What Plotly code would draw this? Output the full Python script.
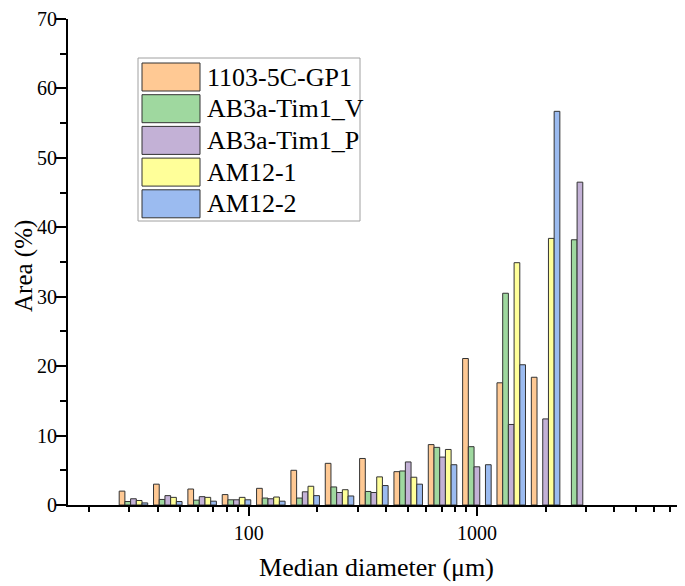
import numpy as np
import plotly.graph_objects as go

# ---- data ----
diameters = [31.25, 44.19, 62.5, 88.39, 125, 176.78, 250, 353.55, 500, 707.11,
             1000, 1414.21, 2000, 2828.43]
series_names = ["1103-5C-GP1", "AB3a-Tim1_V", "AB3a-Tim1_P", "AM12-1", "AM12-2"]
gp1 = [2.0, 3.0, 2.3, 1.5, 2.4, 5.0, 6.0, 6.7, 4.8, 8.7, 21.1, 17.6, 18.4, None]
tim1_v = [0.5, 0.8, 0.7, 0.75, 1.0, 1.0, 2.6, 1.95, 4.9, 8.3, 8.4, 30.5, None, 38.2]
tim1_p = [0.9, 1.35, 1.2, 0.75, 0.9, 1.9, 1.8, 1.8, 6.2, 6.9, 5.5, 11.6, 12.4, 46.5]
am12_1 = [0.65, 1.1, 1.1, 1.1, 1.15, 2.7, 2.2, 4.05, 4.0, 8.0, None, 34.9, 38.4, None]
am12_2 = [0.3, 0.5, 0.55, 0.75, 0.55, 1.35, 1.3, 2.8, 3.0, 5.8, 5.8, 20.2, 56.7, None]
series_values = [gp1, tim1_v, tim1_p, am12_1, am12_2]
colors = ["#FFC994", "#9FD89F", "#C3B1D6", "#FFFF99", "#9BBBF0"]

major_ticks = [100, 1000]
minor_ticks = [20, 30, 40, 50, 60, 70, 80, 90, 200, 300, 400, 500, 600, 700, 800, 900,
               2000, 3000, 4000, 5000, 6000, 7000, 8000]
x_title = "Median diameter (μm)"
y_title = "Area (%)"

FONT = "Liberation Serif"
bar_w = 0.025  # width of one bar in log10 units
logx = np.log10(diameters)

fig = go.Figure()
n = len(series_names)
for i, (name, vals, col) in enumerate(zip(series_names, series_values, colors)):
    fig.add_trace(go.Bar(
        x=logx, y=vals, name=name,
        width=bar_w, offset=(i - n / 2) * bar_w,
        marker=dict(color=col, line=dict(color="#333333", width=1)),
        showlegend=False,
    ))

# ---- geometry (figure is shown with an 8px page offset) ----
OFF = 8
W, H = 677, 578
L, R, T, B = 60, 0, 11, 81
pw, ph = W - L - R, H - T - B


def px(xs):  # screen px -> paper
    return (xs - OFF - L) / pw


def py(ys):
    return (H - B - (ys - OFF)) / ph


shapes = [dict(type="rect", xref="paper", yref="paper",
               x0=px(138), x1=px(360), y0=py(221), y1=py(58),
               line=dict(color="#A0A0A0", width=1), fillcolor="white", layer="above")]
annotations = []
for i, (name, col) in enumerate(zip(series_names, colors)):
    top = 63 + i * 31.7
    shapes.append(dict(type="rect", xref="paper", yref="paper",
                       x0=px(142), x1=px(200), y0=py(top + 28), y1=py(top),
                       line=dict(color="#333333", width=1), fillcolor=col, layer="above"))
    annotations.append(dict(xref="paper", yref="paper", x=px(205), y=py(top + 14),
                            text=name, showarrow=False, xanchor="left", yanchor="middle",
                            font=dict(family=FONT, size=26, color="black")))

# y-axis title placed as rotated text left of the tick labels
annotations.append(dict(xref="paper", yref="paper", x=px(24), y=py(266),
                        text=y_title, textangle=-90, showarrow=False,
                        xanchor="center", yanchor="middle",
                        font=dict(family=FONT, size=25, color="black")))

fig.update_layout(
    width=W, height=H,
    margin=dict(l=L, r=R, t=T, b=B, autoexpand=False),
    plot_bgcolor="white", paper_bgcolor="white",
    barmode="overlay",
    font=dict(family=FONT, size=20, color="black"),
    shapes=shapes, annotations=annotations,
    xaxis=dict(
        range=[1.208, 3.912],
        automargin=False,
        tickmode="array",
        tickvals=np.log10(major_ticks).tolist(),
        ticktext=[str(v) for v in major_ticks],
        ticks="outside", ticklen=9, tickwidth=1.5, tickcolor="black",
        minor=dict(tickmode="array", tickvals=np.log10(minor_ticks).tolist(),
                   ticks="outside", ticklen=5, tickwidth=1.5, tickcolor="black",
                   showgrid=False),
        showline=True, linecolor="black", linewidth=2,
        showgrid=False, zeroline=False,
        tickfont=dict(family=FONT, size=20),
        title=dict(text=x_title, font=dict(family=FONT, size=26), standoff=15),
    ),
    yaxis=dict(
        range=[0, 70], dtick=10,
        automargin=False,
        ticklabeloverflow="allow",
        ticklabelstandoff=-5,
        ticks="outside", ticklen=10, tickwidth=1.5, tickcolor="black",
        minor=dict(dtick=5, ticks="outside", ticklen=6, tickwidth=1.5, tickcolor="black",
                   showgrid=False),
        showline=True, linecolor="black", linewidth=2,
        showgrid=False, zeroline=False,
        tickfont=dict(family=FONT, size=20),
    ),
)

fig.write_html("out.html")
